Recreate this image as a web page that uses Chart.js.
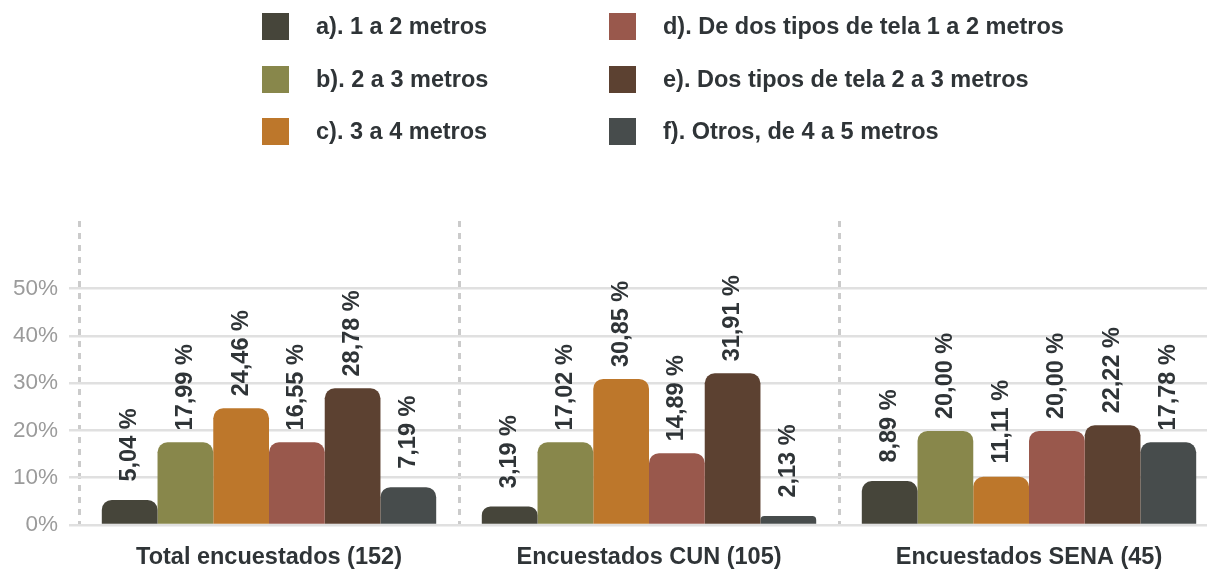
<!DOCTYPE html>
<html lang="es">
<head>
<meta charset="utf-8">
<title>Metros de tela</title>
<script src="https://cdn.jsdelivr.net/npm/chart.js@4.4.1/dist/chart.umd.min.js"></script>
<style>
  html, body { margin: 0; padding: 0; background: #fff; overflow: hidden; }
  #contenedor { position: relative; width: 1230px; height: 569px; }
  #leyenda {
    position: absolute; left: 262px; top: 13px;
    display: grid; grid-auto-flow: column;
    grid-template-columns: 347px auto; grid-template-rows: repeat(3, 52.5px);
    font-family: "Liberation Sans", Arial, sans-serif; font-weight: bold; font-size: 23.5px; color: #2f3437;
  }
  .item { display: flex; align-items: center; height: 27px; }
  .cuadro { width: 27px; height: 27px; margin-right: 27px; flex: none; }
</style>
</head>
<body>
<div id="contenedor">
  <div id="leyenda"></div>
  <canvas id="grafica_metros"></canvas>
</div>
<script>
const grupos = ['Total encuestados (152)', 'Encuestados CUN (105)', 'Encuestados SENA (45)'];
const opciones = ['a). 1 a 2 metros', 'b). 2 a 3 metros', 'c). 3 a 4 metros',
  'd). De dos tipos de tela 1 a 2 metros', 'e). Dos tipos de tela 2 a 3 metros', 'f). Otros, de 4 a 5 metros'];
const colores = ['#46453a', '#88874b', '#bd772b', '#99584c', '#5c4131', '#474c4c'];

// altura de las barras y texto que se imprime encima
const serieA = [5.3, 3.9, 9.3];
const serieB = [17.5, 17.5, 19.9];
const serieC = [24.7, 30.9, 10.2];
const serieD = [17.5, 15.2, 19.9];
const serieE = [28.9, 32.1, 21.1];
const serieF = [8.0, 1.9, 17.5];

const textoA = ['5,04 %', '3,19 %', '8,89 %'];
const textoB = ['17,99 %', '17,02 %', '20,00 %'];
const textoC = ['24,46 %', '30,85 %', '11,11 %'];
const textoD = ['16,55 %', '14,89 %', '20,00 %'];
const textoE = ['28,78 %', '31,91 %', '22,22 %'];
const textoF = ['7,19 %', '2,13 %', '17,78 %'];

const ticksY = [0, 10, 20, 30, 40, 50];

const series = [serieA, serieB, serieC, serieD, serieE, serieF];
const textos = [textoA, textoB, textoC, textoD, textoE, textoF];

const fuente = '"Liberation Sans", Arial, sans-serif';

// leyenda en dos columnas
const leyenda = document.getElementById('leyenda');
opciones.forEach((op, i) => {
  const div = document.createElement('div');
  div.className = 'item';
  div.innerHTML = '<span class="cuadro" style="background:' + colores[i] + '"></span><span></span>';
  div.lastChild.textContent = op;
  leyenda.appendChild(div);
});

// etiquetas verticales sobre cada barra
const etiquetasBarras = {
  id: 'etiquetasBarras',
  afterDatasetsDraw(chart) {
    const ctx = chart.ctx;
    chart.data.datasets.forEach((ds, i) => {
      chart.getDatasetMeta(i).data.forEach((barra, j) => {
        ctx.save();
        ctx.translate(barra.x, barra.y - 55);
        ctx.rotate(-Math.PI / 2);
        ctx.font = 'bold 23.5px ' + fuente;
        ctx.fillStyle = '#2f3437';
        ctx.textAlign = 'center';
        ctx.textBaseline = 'middle';
        ctx.fillText(textos[i][j], 0, 0);
        ctx.restore();
      });
    });
  }
};

const ctx1 = document.getElementById('grafica_metros').getContext('2d');

new Chart(ctx1, {
  type: 'bar',
  data: {
    labels: grupos,
    datasets: series.map((s, i) => ({
      label: opciones[i],
      data: s,
      backgroundColor: colores[i],
      borderWidth: 0,
      borderRadius: { topLeft: 10, topRight: 10, bottomLeft: 0, bottomRight: 0 },
      borderSkipped: false,
      categoryPercentage: 0.88,
      barPercentage: 1.0
    }))
  },
  options: {
    responsive: true,
    maintainAspectRatio: false,
    animation: false,
    layout: { padding: { top: 221, right: 11, bottom: 0, left: 0 } },
    plugins: {
      legend: { display: false },
      tooltip: { enabled: false }
    },
    scales: {
      x: {
        grid: { color: '#cbcbcb', lineWidth: 3, drawTicks: false },
        border: { display: false, dash: [6, 6] },
        ticks: {
          color: '#2f3437',
          padding: 18,
          font: { family: fuente, size: 23.5, weight: 'bold' }
        },
        afterFit: (s) => { s.height = 44; }
      },
      y: {
        min: 0,
        max: 64.3,
        grid: { color: '#e0e0e0', lineWidth: 2.5, tickLength: 10 },
        border: { display: false },
        ticks: {
          stepSize: 10,
          padding: 11,
          color: '#9b9b9b',
          font: { family: fuente, size: 22.5 },
          callback: (v) => v + '%'
        },
        afterBuildTicks: (s) => { s.ticks = s.ticks.filter(t => ticksY.includes(t.value)); },
        afterFit: (s) => { s.width = 79; }
      }
    }
  },
  plugins: [etiquetasBarras]
});
</script>
</body>
</html>
